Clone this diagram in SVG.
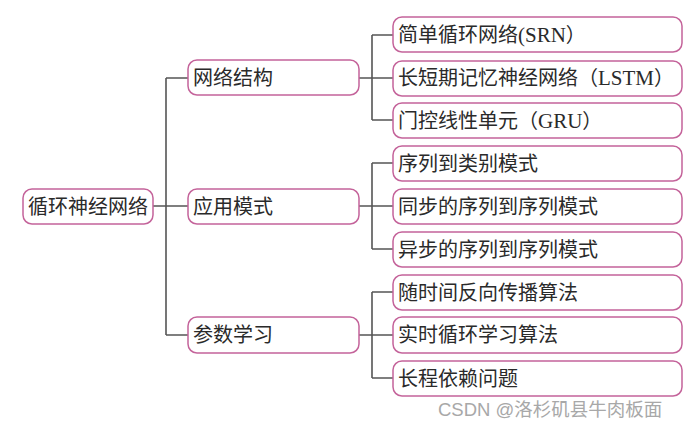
<svg xmlns="http://www.w3.org/2000/svg" width="685" height="429" viewBox="0 0 685 429">
<style>
.box{fill:#fff;stroke:#c4639a;stroke-width:1.5}
.t{font-family:"Liberation Serif","Noto Sans CJK SC",serif;font-size:20px;fill:#2a2a2a;dominant-baseline:central}
.l{font-size:21px}
.c{fill:none;stroke:#555;stroke-width:1.6}
.wm{font-family:"Liberation Sans","Noto Sans CJK SC",sans-serif;font-size:18.5px;fill:#a8a8a8}
</style>
<rect width="685" height="429" fill="#fff"/>
<g id="connectors">
<path class="c" d="M153,206H166M166,78V335M166,78H188M166,206H188M166,335H188"/>
<path class="c" d="M359,78H372M372,35V120M372,35H393M372,78H393M372,120H393"/>
<path class="c" d="M359,206H372M372,163V249M372,163H393M372,206H393M372,249H393"/>
<path class="c" d="M359,335H372M372,292V378M372,292H393M372,335H393M372,378H393"/>
</g>
<g id="root"><rect class="box" x="23" y="189" width="130" height="35" rx="9"/><text class="t" x="28" y="206.5">循环神经网络</text></g>
<g id="n1"><rect class="box" x="188" y="60" width="171" height="35" rx="9"/><text class="t" x="193" y="78">网络结构</text></g>
<g id="n2"><rect class="box" x="188" y="189" width="171" height="35" rx="9"/><text class="t" x="193" y="206.5">应用模式</text></g>
<g id="n3"><rect class="box" x="188" y="317" width="171" height="36" rx="9"/><text class="t" x="193" y="335">参数学习</text></g>
<g id="n1a"><rect class="box" x="393" y="17" width="289" height="35" rx="9"/><text class="t" x="398" y="35">简单循环网络<tspan class="l">(SRN</tspan>）</text></g>
<g id="n1b"><rect class="box" x="393" y="61" width="289" height="35" rx="9"/><text class="t" x="398" y="78">长短期记忆神经网络（<tspan class="l">LSTM</tspan>）</text></g>
<g id="n1c"><rect class="box" x="393" y="103" width="289" height="35" rx="9"/><text class="t" x="398" y="120.5">门控线性单元（<tspan class="l">GRU</tspan>）</text></g>
<g id="n2a"><rect class="box" x="393" y="146" width="289" height="35" rx="9"/><text class="t" x="398" y="163.5">序列到类别模式</text></g>
<g id="n2b"><rect class="box" x="393" y="189" width="289" height="35" rx="9"/><text class="t" x="398" y="206.5">同步的序列到序列模式</text></g>
<g id="n2c"><rect class="box" x="393" y="232" width="289" height="35" rx="9"/><text class="t" x="398" y="249.5">异步的序列到序列模式</text></g>
<g id="n3a"><rect class="box" x="393" y="275" width="289" height="35" rx="9"/><text class="t" x="398" y="292.5">随时间反向传播算法</text></g>
<g id="n3b"><rect class="box" x="393" y="317" width="289" height="36" rx="9"/><text class="t" x="398" y="335">实时循环学习算法</text></g>
<g id="n3c"><rect class="box" x="393" y="361" width="289" height="35" rx="9"/><text class="t" x="398" y="378.5">长程依赖问题</text></g>
<text class="wm" x="438" y="416">CSDN @洛杉矶县牛肉板面</text>
</svg>
